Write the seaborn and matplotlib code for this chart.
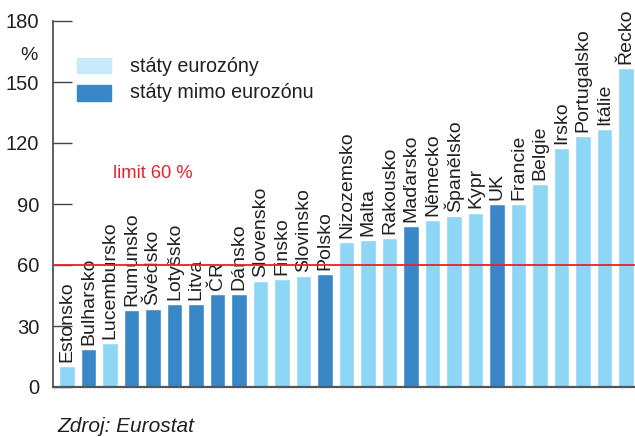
import matplotlib
matplotlib.use("Agg")
import matplotlib.pyplot as plt
import seaborn as sns
import pandas as pd

# government debt (% of GDP), 2012
countries = ["Estonsko", "Bulharsko", "Lucembursko", "Rumunsko", "Švédsko", "Lotyšsko",
             "Litva", "ČR", "Dánsko", "Slovensko", "Finsko", "Slovinsko", "Polsko",
             "Nizozemsko", "Malta", "Rakousko", "Maďarsko", "Německo", "Španělsko",
             "Kypr", "UK", "Francie", "Belgie", "Irsko", "Portugalsko", "Itálie", "Řecko"]
debt = [10.1, 18.5, 21.7, 37.9, 38.2, 40.7, 40.7, 45.8, 45.8, 52.1, 53.0, 54.4, 55.6,
        71.2, 72.1, 73.4, 79.2, 81.9, 84.2, 85.8, 90.0, 90.2, 99.6, 117.6, 123.6, 127.0, 156.9]
eurozone = [1, 0, 1, 0, 0, 0, 0, 0, 0, 1, 1, 1, 0,
            1, 1, 1, 0, 1, 1, 1, 0, 1, 1, 1, 1, 1, 1]
yticks = [0, 30, 60, 90, 120, 150, 180]

df = pd.DataFrame({"stat": countries, "dluh": debt,
                   "skupina": ["státy eurozóny" if e else "státy mimo eurozónu" for e in eurozone]})

light = "#8dd6f5"
dark = "#3a87c8"
txt = "#231f20"

sns.set_style("white")
plt.rcParams["font.family"] = ["Liberation Sans", "DejaVu Sans"]

fig = plt.figure(figsize=(6.35, 4.37), dpi=100)
ax = fig.add_axes([53 / 635, 50 / 437, 582 / 635, 366 / 437])

sns.barplot(data=df, x="stat", y="dluh", hue="skupina",
            palette={"státy eurozóny": light, "státy mimo eurozónu": dark},
            dodge=False, width=0.74, saturation=1, legend=False, ax=ax)

for i, (name, v) in enumerate(zip(countries, debt)):
    ax.text(i, v + 2, name, rotation=90, ha="center", va="bottom",
            fontsize=14, color=txt, clip_on=False)

ax.axhline(60, color="#e8202a", lw=1.3, zorder=5)
fig.text(113 / 635, 1 - 173 / 437, "limit 60 %", color="#e8202a",
         fontsize=13.2, va="center", ha="left")

ax.set_ylim(0, 180)
ax.set_xlim(-0.65, 26.42)
ax.set_yticks(yticks)
ax.set_yticklabels([str(t) for t in yticks], fontsize=14.5, color=txt)
ax.set_xticks([])
ax.set_xlabel("")
ax.set_ylabel("")
ax.tick_params(axis="y", direction="in", length=14, width=1, color="#444444", pad=10, left=True)
for s in ["top", "right"]:
    ax.spines[s].set_visible(False)
ax.spines["left"].set_color("#444444")
ax.spines["bottom"].set_color("#555555")
ax.spines["left"].set_linewidth(1.2)
ax.spines["bottom"].set_linewidth(1.6)

fig.text(29 / 635, 1 - 55 / 437, "%", fontsize=14, color=txt, ha="center", va="center")

# legend
fig.patches.append(plt.Rectangle((77 / 635, 1 - 73 / 437), 34 / 635, 15 / 437,
                                 transform=fig.transFigure, color="#c8eaf9", figure=fig))
fig.patches.append(plt.Rectangle((77 / 635, 1 - 101 / 437), 34 / 635, 16 / 437,
                                 transform=fig.transFigure, color=dark, figure=fig))
fig.text(130 / 635, 1 - 67 / 437, "státy eurozóny", fontsize=14.2, color=txt, va="center")
fig.text(130 / 635, 1 - 93 / 437, "státy mimo eurozónu", fontsize=14.2, color=txt, va="center")

fig.text(57 / 635, 1 - 426 / 437, "Zdroj: Eurostat", fontsize=15, style="italic",
         color=txt, va="center")

fig.savefig("out.png", dpi=100)
